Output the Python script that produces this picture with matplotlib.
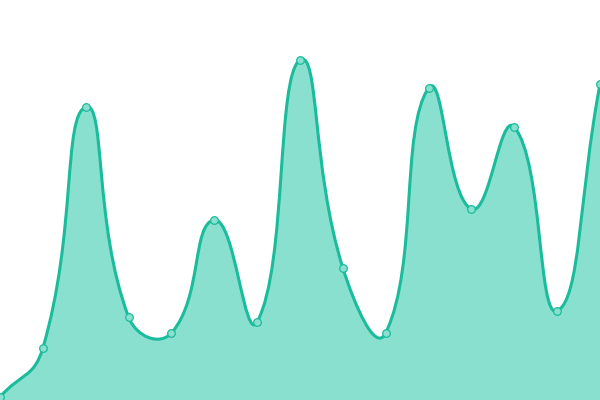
import numpy as np
import matplotlib
matplotlib.use("Agg")
import matplotlib.pyplot as plt
from matplotlib.path import Path
from matplotlib.patches import PathPatch

# values (y axis 0..400, one point per slot)
idx = np.arange(15)
vals = [3, 52, 293, 83, 67, 180, 78, 340, 132, 67, 312, 191, 273, 89, 316]

line_col = "#1abc9c"
fill_col = "#8ae0cf"
marker_face = "#8ae0cf"


def smooth_ctrl(pts, smooth=0.5):
    # echarts style bezier control points, done in pixel space
    n = len(pts)
    cps = []
    for i in range(n):
        x, y = pts[i]
        px, py = pts[i - 1] if i > 0 else pts[i]
        nx, ny = pts[i + 1] if i < n - 1 else pts[i]
        vx, vy = nx - px, ny - py
        d0 = np.hypot(x - px, y - py)
        d1 = np.hypot(nx - x, ny - y)
        r = d1 / (d0 + d1) if (d0 + d1) > 0 else 0.5
        c_in = (x - vx * smooth * (1 - r), y - vy * smooth * (1 - r))
        c_out = (x + vx * smooth * r, y + vy * smooth * r)
        cps.append((c_in, c_out))
    return cps


fig = plt.figure(figsize=(6, 4), dpi=100)
ax = fig.add_axes([0, 0, 1, 1])
ax.set_xlim(0, 14)
ax.set_ylim(0, 400)
ax.axis("off")

pix = ax.transData.transform(np.column_stack([idx, vals]))
cps = smooth_ctrl(pix)

verts = [tuple(pix[0])]
codes = [Path.MOVETO]
for i in range(len(pix) - 1):
    verts += [cps[i][1], cps[i + 1][0], tuple(pix[i + 1])]
    codes += [Path.CURVE4] * 3
inv = ax.transData.inverted()
verts = inv.transform(np.array(verts))

line_path = Path(verts, codes)
fill_verts = np.vstack([verts, [[14, 0], [0, 0], verts[0]]])
fill_codes = codes + [Path.LINETO, Path.LINETO, Path.CLOSEPOLY]

ax.add_patch(PathPatch(Path(fill_verts, fill_codes), facecolor=fill_col,
                       edgecolor="none", zorder=1))
ax.add_patch(PathPatch(line_path, facecolor="none", edgecolor=line_col,
                       linewidth=2.2, zorder=2))
ax.plot(idx, vals, "o", ms=5.5, mfc=marker_face, mec=line_col, mew=0.9,
        zorder=3)

fig.savefig("out.png", dpi=100)
